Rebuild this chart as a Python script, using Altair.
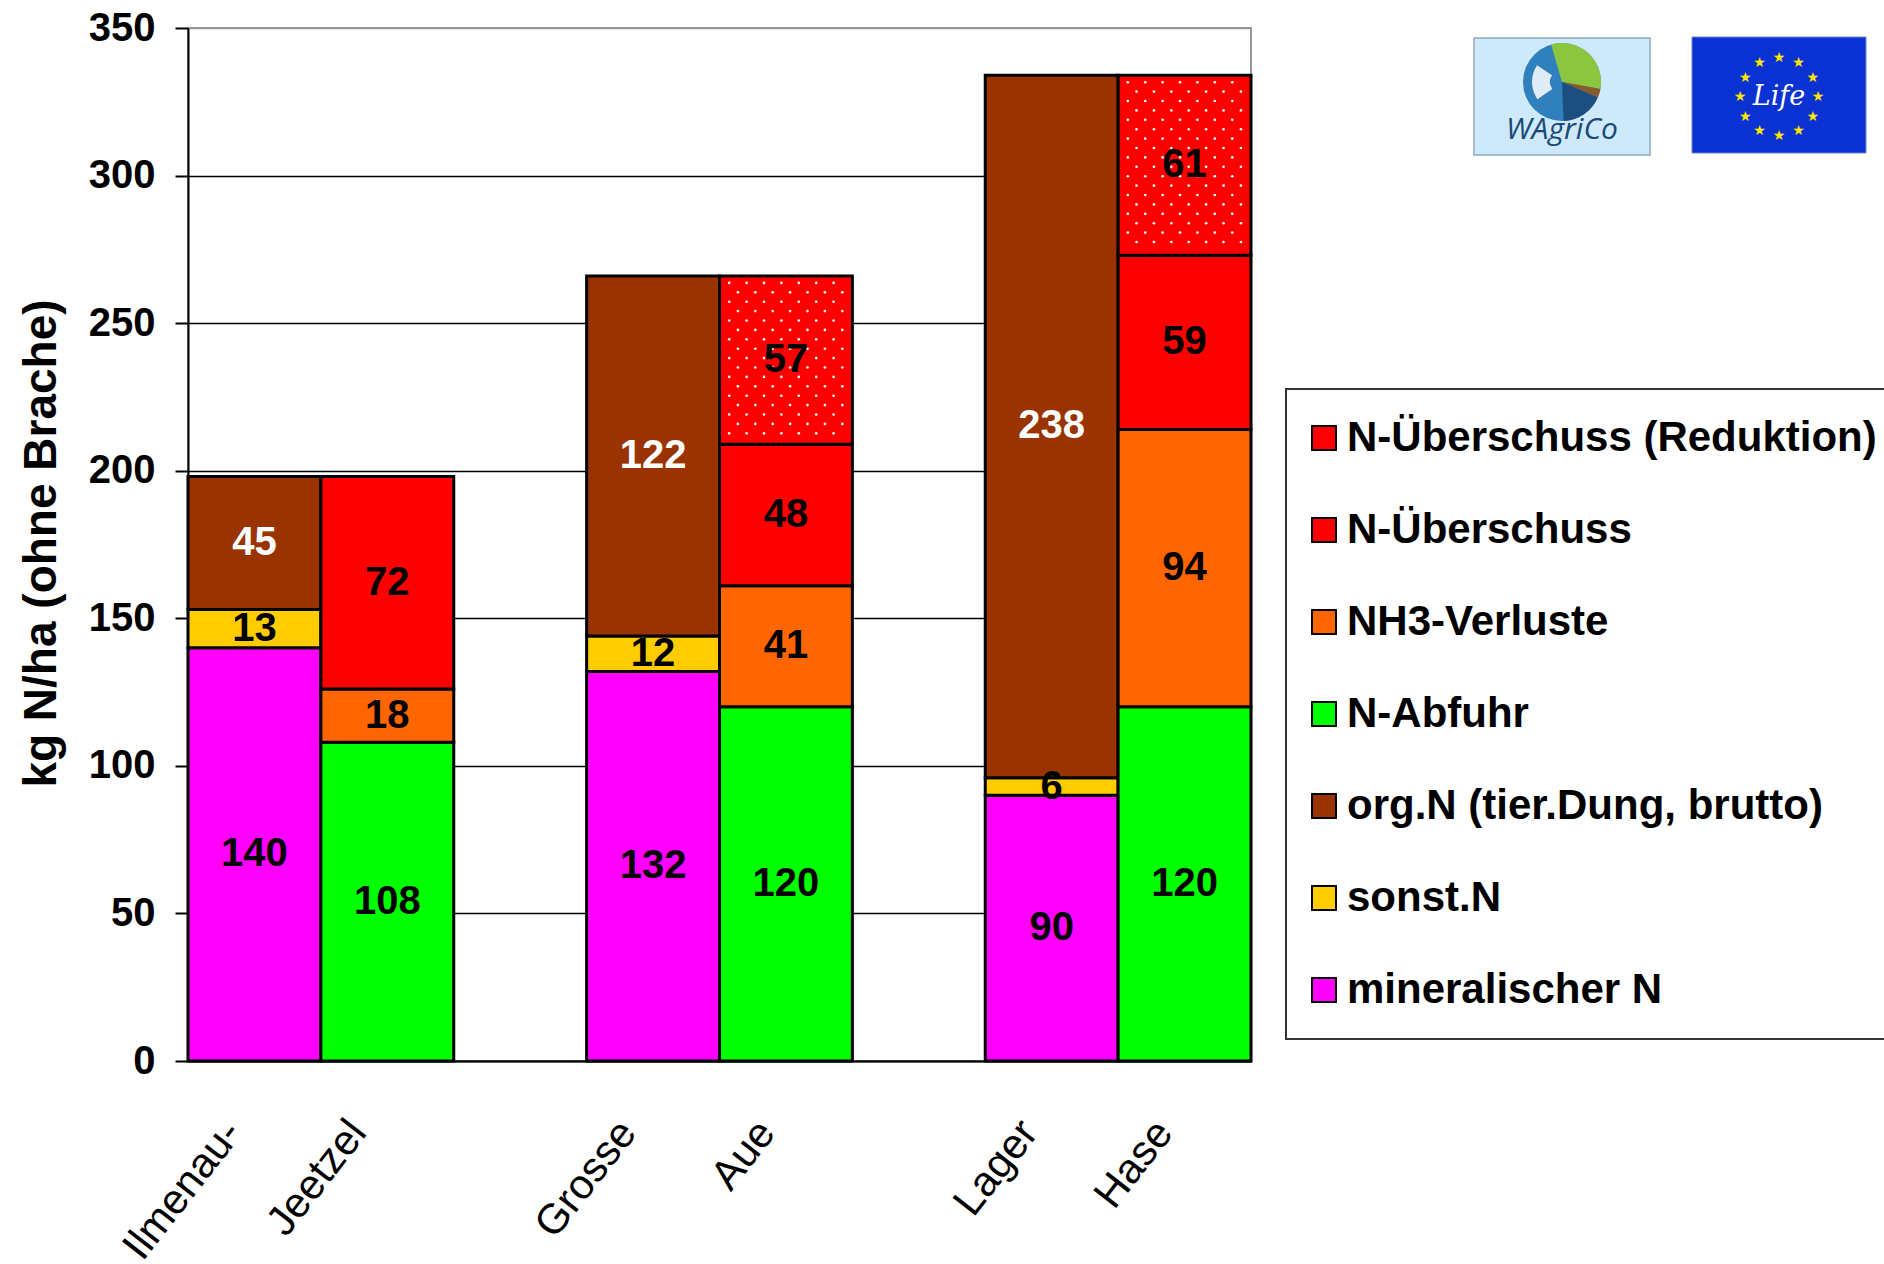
import altair as alt
import numpy as np
import pandas as pd

# --- data -------------------------------------------------------------------
groups = ["Ilmenau-Jeetzel", "Grosse Aue", "Lager Hase"]
bar_names = ["Ilmenau-", "Jeetzel", "Grosse", "Aue", "Lager", "Hase"]

components = [
    "N-Überschuss (Reduktion)",
    "N-Überschuss",
    "NH3-Verluste",
    "N-Abfuhr",
    "org.N (tier.Dung, brutto)",
    "sonst.N",
    "mineralischer N",
]
component_colors = ["#FF0000", "#FF0000", "#FF6600", "#00FF00", "#993300", "#FFCC00", "#FF00FF"]

# N-Zufuhr (left bar of each pair)
mineral_n = [140, 132, 90]
sonst_n = [13, 12, 6]
org_n = [45, 122, 238]
# N-Verbleib (right bar of each pair)
n_abfuhr = [108, 120, 120]
nh3_verluste = [18, 41, 94]
n_ueberschuss = [72, 48, 59]
n_ueberschuss_red = [0, 57, 61]

# --- long table for stacking -----------------------------------------------
rows = []
for gi, _ in enumerate(groups):
    left, right = gi * 3, gi * 3 + 1
    for k, (comp, vals) in enumerate(
        [("mineralischer N", mineral_n), ("sonst.N", sonst_n), ("org.N (tier.Dung, brutto)", org_n)]
    ):
        rows.append(dict(slot=left, component=comp, value=vals[gi], order=k))
    for k, (comp, vals) in enumerate(
        [
            ("N-Abfuhr", n_abfuhr),
            ("NH3-Verluste", nh3_verluste),
            ("N-Überschuss", n_ueberschuss),
            ("N-Überschuss (Reduktion)", n_ueberschuss_red),
        ]
    ):
        rows.append(dict(slot=right, component=comp, value=vals[gi], order=k))
df = pd.DataFrame(rows)

W, H = 1063, 1033
N_SLOTS = 8
Y_MAX = 350
px_x = W / N_SLOTS
px_y = H / Y_MAX

# white dot texture for the "Reduktion" segments
dots = []
for gi, red in enumerate(n_ueberschuss_red):
    if red <= 0:
        continue
    slot = gi * 3 + 1
    top = n_abfuhr[gi] + nh3_verluste[gi] + n_ueberschuss[gi] + red
    seg_h = red * px_y
    r = 0
    while 7 + 9.4 * r <= seg_h - 4:
        yy = top - (7 + 9.4 * r) / px_y
        xp = 9.7 if r % 2 == 0 else 18.4
        while xp <= px_x - 4:
            dots.append(dict(dx=slot + xp / px_x, dy=yy))
            xp += 17.4
        r += 1
dots_df = pd.DataFrame(dots)

# --- scales and axes ---------------------------------------------------------
xscale = alt.Scale(domain=[0, N_SLOTS], nice=False, zero=False)
yscale = alt.Scale(domain=[0, Y_MAX], nice=False)

tick_pos = [gi * 3 + side + 0.5 for gi in range(len(groups)) for side in (0, 1)]
label_shift = [-22, -30, -26, -20, -23, -21]

label_expr = " : ".join(f"datum.value == {p} ? '{n}'" for p, n in zip(tick_pos, bar_names)) + " : ''"
offset_expr = " : ".join(f"datum.value == {p} ? {s}" for p, s in zip(tick_pos, label_shift)) + " : 0"

x_axis = alt.Axis(
    values=tick_pos,
    labelExpr=label_expr,
    labelOffset=alt.ExprRef(offset_expr),
    labelAngle=308,
    labelAlign="right",
    labelBaseline="middle",
    labelFontSize=42,
    labelFontWeight="normal",
    labelPadding=64,
    labelOverlap=False,
    labelFlush=False,
    labelBound=False,
    ticks=False,
    tickSize=0,
    grid=False,
    domainColor="black",
    domainWidth=2,
    title=None,
)

y_axis = alt.Axis(
    values=list(range(0, Y_MAX + 1, 50)),
    labelFontSize=40,
    labelFontWeight="bold",
    labelPadding=20,
    tickSize=13,
    tickWidth=2,
    tickColor="black",
    domainColor="black",
    domainWidth=2,
    grid=True,
    gridColor=alt.condition("datum.value == 350", alt.value("#999999"), alt.value("#000000")),
    gridWidth=1.5,
    title="kg N/ha (ohne Brache)",
    titleFontSize=46,
    titleFontWeight="bold",
    titleAngle=270,
    titleAlign="center",
    titleBaseline="middle",
    titleX=-147,
    titleY=515,
)

legend = alt.Legend(
    title=None,
    orient="none",
    legendX=1098,
    legendY=361,
    padding=28,
    strokeColor="#333333",
    symbolType="square",
    symbolSize=576,
    symbolOffset=-11,
    symbolStrokeColor="black",
    symbolStrokeWidth=2,
    symbolOpacity=1,
    labelFontSize=42,
    labelFontWeight="bold",
    labelLimit=0,
    labelOffset=2,
    rowPadding=50,
)

# --- stacked bars --------------------------------------------------------------
base = (
    alt.Chart(df)
    .transform_filter("datum.value > 0")
    .transform_stack(stack="value", groupby=["slot"], as_=["y0", "y1"], sort=[alt.SortField("order", "ascending")])
    .transform_calculate(
        x0="datum.slot",
        x1="datum.slot + 1",
        xm="datum.slot + 0.5",
        ym="(datum.y0 + datum.y1) / 2",
    )
)

bars = base.mark_rect(stroke="black", strokeWidth=3).encode(
    x=alt.X("x0:Q", scale=xscale, axis=x_axis),
    x2="x1:Q",
    y=alt.Y("y0:Q", scale=yscale, axis=y_axis),
    y2="y1:Q",
    color=alt.Color(
        "component:N",
        scale=alt.Scale(domain=components, range=component_colors),
        legend=legend,
    ),
)

texture = alt.Chart(dots_df).mark_point(filled=True, color="white", size=7, opacity=1, strokeWidth=0).encode(
    x=alt.X("dx:Q", scale=xscale),
    y=alt.Y("dy:Q", scale=yscale),
)

values = base.mark_text(fontSize=40, fontWeight="bold", baseline="middle", align="center").encode(
    x=alt.X("xm:Q", scale=xscale),
    y=alt.Y("ym:Q", scale=yscale),
    text="value:Q",
    color=alt.condition(
        "datum.component == 'org.N (tier.Dung, brutto)'", alt.value("white"), alt.value("black")
    ),
)

# --- logos -----------------------------------------------------------------------
one = pd.DataFrame({"k": [0]})

wagrico_box = alt.Chart(one).mark_rect(fill="#cde9fa", stroke="#8fa9bd", strokeWidth=1.5).encode(
    x=alt.value(1286), x2=alt.value(1462), y=alt.value(10), y2=alt.value(127)
)
cx, cy, rad = 1374, 54, 39
wagrico_parts = []
for t0, t1, col in [
    (0.0, 2 * np.pi, "#2f80bd"),
    (0.0, 1.75, "#8cc63e"),
    (6.0, 2 * np.pi, "#8cc63e"),
    (1.75, 1.98, "#8a5a2b"),
    (1.98, 3.1, "#1c4e80"),
]:
    wagrico_parts.append(
        alt.Chart(one)
        .mark_arc(theta=t0, theta2=t1, outerRadius=rad, color=col)
        .encode(x=alt.value(cx), y=alt.value(cy))
    )
wagrico_leaf = alt.Chart(one).mark_arc(
    theta=4.1, theta2=5.3, innerRadius=12, outerRadius=30, color="white", opacity=0.85
).encode(x=alt.value(cx), y=alt.value(cy))
wagrico_text = alt.Chart(one).mark_text(
    text="WAgriCo", font="Open Sans", fontSize=30, fontStyle="italic", color="#1a4a78", baseline="middle"
).encode(x=alt.value(1374), y=alt.value(102))

life_box = alt.Chart(one).mark_rect(fill="#0a32d2", stroke="#6f86c9", strokeWidth=1).encode(
    x=alt.value(1504), x2=alt.value(1678), y=alt.value(9), y2=alt.value(125)
)
stars = alt.Chart(pd.DataFrame({"k": list(range(12))})).mark_text(
    text="★", radius=39, fontSize=14, color="#ffe500", font="DejaVu Sans", baseline="middle"
).encode(
    theta=alt.Theta("k:Q", scale=alt.Scale(domain=[0, 12], range=[0, 2 * np.pi])),
    x=alt.value(1591),
    y=alt.value(69),
)
life_text = alt.Chart(one).mark_text(
    text="Life", font="DejaVu Serif", fontStyle="italic", fontSize=27, color="white", baseline="middle"
).encode(x=alt.value(1591), y=alt.value(69))

chart = (
    alt.layer(
        bars,
        texture,
        values,
        wagrico_box,
        *wagrico_parts,
        wagrico_leaf,
        wagrico_text,
        life_box,
        stars,
        life_text,
    )
    .properties(
        width=W,
        height=H,
        autosize=alt.AutoSizeParams(type="none"),
        padding={"left": 188, "top": 28, "right": 1884 - 188 - W, "bottom": 1264 - 28 - H},
        background="white",
    )
    .configure(font="Liberation Sans")
    .configure_view(stroke="#999999", strokeWidth=2)
    .configure_legend(strokeWidth=2)
)

chart.save("out.html", embed_options={"renderer": "svg", "actions": False})
